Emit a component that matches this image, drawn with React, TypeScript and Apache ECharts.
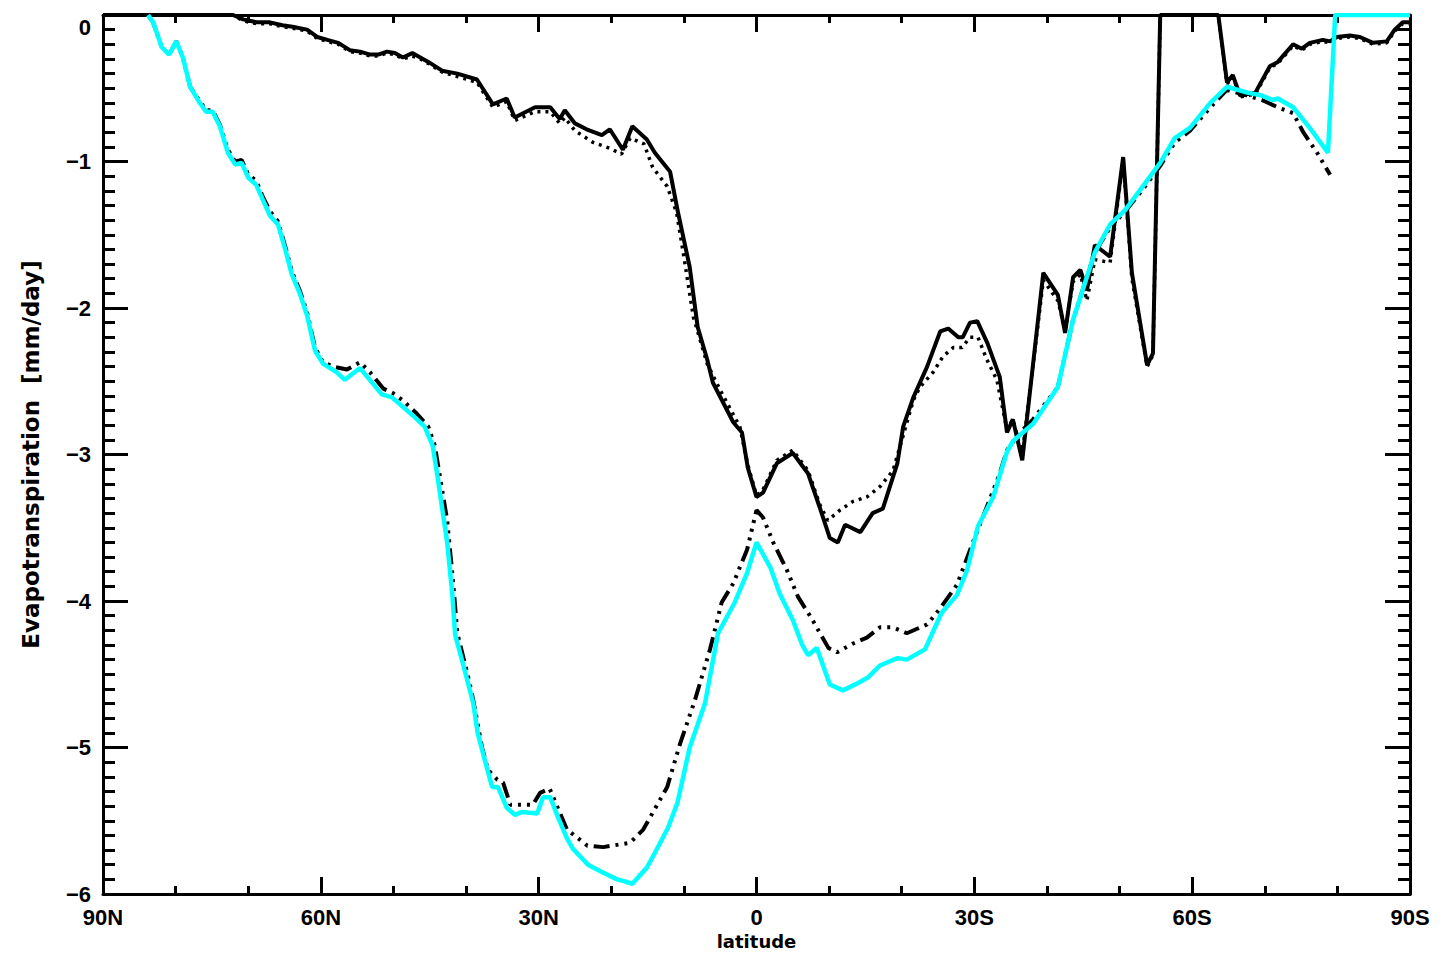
import { useEffect, useRef } from 'react';
import * as echarts from 'echarts';

// [latitude (deg, +N / -S), evapotranspiration (mm/day)]
const SOLID: [number, number][] = [
  [90, 0], [72.1, 0], [70.7, -0.03], [68.8, -0.05], [67.0, -0.05], [65.3, -0.07], [63.9, -0.08], [61.9, -0.10],
  [60.5, -0.15], [59.1, -0.17], [57.6, -0.19], [56.0, -0.24], [54.6, -0.25], [53.2, -0.27], [52.1, -0.27],
  [50.9, -0.25], [49.8, -0.26], [48.7, -0.29], [47.4, -0.26], [46.3, -0.29], [45.2, -0.32], [43.3, -0.38],
  [41.2, -0.40], [38.5, -0.44], [36.3, -0.61], [34.4, -0.57], [33.3, -0.70], [30.5, -0.63], [28.4, -0.63],
  [27.1, -0.71], [26.4, -0.65], [25.0, -0.74], [23.4, -0.78], [21.3, -0.82], [20.2, -0.78], [18.4, -0.92],
  [17.1, -0.76], [15.1, -0.85], [14.0, -0.94], [11.9, -1.07], [10.8, -1.35], [9.2, -1.72], [8.1, -2.13],
  [6.8, -2.35], [6.0, -2.51], [3.2, -2.78], [2.0, -2.85], [1.2, -3.09], [0.0, -3.29], [-0.9, -3.26],
  [-2.8, -3.06], [-5.0, -2.99], [-7.1, -3.13], [-8.7, -3.36], [-10.1, -3.57], [-11.2, -3.60], [-12.2, -3.48],
  [-14.3, -3.53], [-16.0, -3.40], [-17.4, -3.37], [-19.4, -3.06], [-20.2, -2.81], [-21.6, -2.61],
  [-23.5, -2.40], [-25.3, -2.16], [-26.4, -2.14], [-27.8, -2.20], [-28.4, -2.20], [-29.4, -2.10],
  [-30.4, -2.09], [-31.8, -2.24], [-33.5, -2.47], [-34.5, -2.85], [-35.3, -2.76], [-36.6, -3.04],
  [-39.5, -1.76], [-41.5, -1.91], [-42.5, -2.17], [-43.6, -1.79], [-44.6, -1.74], [-45.5, -1.88],
  [-46.6, -1.57], [-48.7, -1.65], [-50.5, -0.97], [-51.7, -1.76], [-53.8, -2.39], [-54.6, -2.31],
  [-55.6, 0], [-63.6, 0], [-64.8, -0.46], [-65.6, -0.41], [-66.6, -0.55], [-68.7, -0.53], [-70.7, -0.35],
  [-71.8, -0.32], [-73.9, -0.20], [-75.1, -0.23], [-76.2, -0.19], [-78.0, -0.17], [-79.0, -0.18],
  [-79.9, -0.15], [-81.7, -0.14], [-83.1, -0.15], [-84.9, -0.19], [-86.8, -0.18], [-87.9, -0.10],
  [-89.0, -0.05], [-90, -0.05],
];

const DOTTED: [number, number][] = [
  [90, 0], [72.1, 0], [70.7, -0.04], [68.8, -0.06], [67.0, -0.06], [65.3, -0.08], [63.9, -0.09], [61.9, -0.11],
  [60.5, -0.16], [59.1, -0.18], [57.6, -0.20], [56.0, -0.25], [54.6, -0.26], [53.2, -0.28], [52.1, -0.28],
  [50.9, -0.26], [49.8, -0.27], [48.7, -0.30], [47.4, -0.28], [46.3, -0.30], [45.2, -0.33], [43.3, -0.39],
  [41.2, -0.42], [38.5, -0.46], [36.3, -0.63], [34.4, -0.59], [33.3, -0.72], [30.5, -0.66], [28.4, -0.66],
  [27.1, -0.74], [26.4, -0.70], [25.0, -0.79], [22.5, -0.87], [20.2, -0.91], [18.6, -0.95], [17.4, -0.84],
  [15.5, -0.88], [14.3, -1.04], [12.3, -1.17], [11.0, -1.35], [10.1, -1.62], [8.7, -2.06], [6.8, -2.38],
  [5.0, -2.56], [2.3, -2.81], [1.2, -3.07], [0.0, -3.28], [-0.9, -3.24], [-2.8, -3.04], [-5.0, -2.97],
  [-7.1, -3.11], [-8.7, -3.34], [-9.8, -3.45], [-11.5, -3.38], [-13.3, -3.32], [-15.2, -3.29], [-17.0, -3.22],
  [-18.8, -3.11], [-20.2, -2.87], [-21.6, -2.63], [-22.5, -2.54], [-24.3, -2.44], [-25.7, -2.33],
  [-27.1, -2.27], [-28.3, -2.27], [-29.4, -2.20], [-30.5, -2.20], [-31.7, -2.35], [-33.1, -2.49],
  [-34.5, -2.83], [-35.3, -2.76], [-36.6, -3.00], [-39.5, -1.81], [-41.5, -1.95], [-42.5, -2.15],
  [-43.6, -1.82], [-44.6, -1.77], [-45.5, -1.95], [-46.6, -1.67], [-48.7, -1.69], [-50.5, -0.99],
  [-51.7, -1.80], [-53.8, -2.40], [-54.6, -2.32], [-55.6, 0], [-63.6, 0], [-64.8, -0.47], [-65.6, -0.42],
  [-66.6, -0.56], [-68.7, -0.54], [-70.7, -0.36], [-71.8, -0.33], [-73.9, -0.21], [-75.1, -0.24],
  [-76.2, -0.20], [-78.0, -0.18], [-79.0, -0.19], [-79.9, -0.16], [-81.7, -0.15], [-83.1, -0.16],
  [-84.9, -0.20], [-86.8, -0.19], [-87.9, -0.11], [-89.0, -0.06], [-90, -0.06],
];

const DASHDOT: [number, number][] = [
  [83.8, 0], [83.1, -0.05], [81.9, -0.22], [80.9, -0.27], [79.9, -0.18], [79.0, -0.29], [78.0, -0.49],
  [76.8, -0.58], [75.8, -0.65], [74.9, -0.65], [73.9, -0.75], [72.8, -0.92], [71.8, -1.00], [70.9, -0.99],
  [70.0, -1.09], [68.9, -1.13], [68.0, -1.24], [67.0, -1.34], [65.9, -1.41], [64.9, -1.58], [64.0, -1.75],
  [62.9, -1.88], [61.9, -2.03], [60.8, -2.27], [59.7, -2.37], [58.3, -2.40], [56.4, -2.42], [54.6, -2.37],
  [53.2, -2.44], [51.4, -2.55], [50.1, -2.58], [48.7, -2.63], [46.8, -2.72], [45.2, -2.81], [44.3, -2.94],
  [42.6, -3.45], [41.8, -3.86], [41.2, -4.22], [39.7, -4.52], [39.0, -4.68], [37.8, -5.00], [37.0, -5.15],
  [35.7, -5.22], [34.9, -5.24], [33.9, -5.39], [30.8, -5.39], [29.8, -5.31], [28.5, -5.28], [26.1, -5.56],
  [23.3, -5.67], [21.1, -5.68], [17.4, -5.65], [15.6, -5.56], [12.3, -5.27], [10.5, -4.97], [8.5, -4.68],
  [6.4, -4.33], [4.8, -4.01], [3.2, -3.88], [1.3, -3.65], [0.0, -3.38], [-0.9, -3.43], [-2.3, -3.60],
  [-4.2, -3.79], [-5.7, -3.97], [-7.6, -4.12], [-9.9, -4.32], [-11.1, -4.35], [-13.3, -4.29], [-15.2, -4.25],
  [-17.0, -4.18], [-18.8, -4.18], [-20.7, -4.22], [-23.5, -4.16], [-25.3, -4.05], [-27.6, -3.89],
  [-29.8, -3.60], [-31.7, -3.36], [-33.5, -3.13], [-34.5, -2.97], [-36.3, -2.85], [-38.1, -2.76],
  [-41.5, -2.54], [-43.6, -2.08], [-46.6, -1.62], [-48.7, -1.45], [-50.8, -1.34], [-53.2, -1.19],
  [-55.6, -1.03], [-57.6, -0.87], [-59.7, -0.79], [-62.5, -0.63], [-64.8, -0.51], [-67.6, -0.55],
  [-69.6, -0.58], [-71.8, -0.63], [-73.9, -0.67], [-75.3, -0.80], [-77.2, -0.94], [-79.0, -1.09],
];

const CYAN: [number, number][] = [
  [83.8, 0], [83.1, -0.05], [81.9, -0.22], [80.9, -0.27], [79.9, -0.18], [79.0, -0.29], [78.0, -0.49],
  [76.8, -0.59], [75.8, -0.66], [74.9, -0.66], [73.9, -0.76], [72.8, -0.94], [71.8, -1.02], [70.9, -1.01],
  [70.0, -1.11], [68.9, -1.16], [68.0, -1.26], [67.0, -1.37], [65.9, -1.43], [64.9, -1.60], [64.0, -1.77],
  [62.9, -1.90], [61.9, -2.05], [60.8, -2.29], [59.7, -2.38], [57.8, -2.44], [56.7, -2.49], [54.6, -2.41],
  [51.6, -2.59], [50.2, -2.61], [47.4, -2.73], [45.7, -2.81], [44.6, -2.94], [43.9, -3.16], [42.6, -3.60],
  [41.9, -3.95], [41.5, -4.23], [40.1, -4.49], [39.0, -4.70], [38.4, -4.90], [37.4, -5.09], [36.4, -5.27],
  [35.6, -5.27], [34.4, -5.41], [33.3, -5.46], [32.3, -5.44], [30.2, -5.45], [29.4, -5.34], [28.4, -5.34],
  [27.3, -5.48], [26.1, -5.62], [25.3, -5.69], [23.2, -5.80], [21.3, -5.85], [19.2, -5.90], [18.4, -5.91],
  [17.1, -5.93], [15.1, -5.82], [14.0, -5.72], [12.2, -5.55], [10.9, -5.38], [9.2, -5.00], [7.1, -4.70],
  [5.3, -4.22], [3.0, -4.01], [1.3, -3.81], [0.0, -3.60], [-1.9, -3.77], [-3.2, -3.95], [-5.0, -4.13],
  [-6.3, -4.30], [-7.1, -4.37], [-8.3, -4.32], [-10.1, -4.57], [-11.9, -4.61], [-14.0, -4.56], [-15.4, -4.52],
  [-17.0, -4.44], [-19.4, -4.39], [-20.7, -4.40], [-23.2, -4.33], [-25.5, -4.08], [-27.6, -3.96],
  [-29.0, -3.79], [-30.5, -3.49], [-32.6, -3.29], [-34.5, -2.98], [-35.3, -2.91], [-38.1, -2.79],
  [-41.5, -2.54], [-43.6, -2.08], [-46.6, -1.62], [-48.7, -1.43], [-50.8, -1.33], [-53.2, -1.17],
  [-55.6, -1.01], [-57.6, -0.84], [-59.7, -0.77], [-62.5, -0.60], [-64.8, -0.49], [-67.6, -0.53],
  [-69.6, -0.55], [-71.1, -0.58], [-71.8, -0.57], [-73.9, -0.63], [-76.2, -0.77], [-78.7, -0.94],
  [-79.7, 0], [-90, 0],
];

const X_TITLE = 'latitude';
const Y_TITLE = 'Evapotranspiration  [mm/day]';

export default function App() {
  const ref = useRef<HTMLDivElement>(null);
  useEffect(() => {
    const chart = echarts.init(ref.current!, null, { renderer: 'svg' });
    const black = '#000';
    const axisLine = { show: true, onZero: false, lineStyle: { color: black, width: 3 } };
    const xTick = { show: true, inside: true, length: 17, lineStyle: { color: black, width: 3 } };
    const xMinor = { show: true, splitNumber: 3, length: 8, lineStyle: { color: black, width: 3 } };
    const yTick = { show: true, inside: true, length: 25, lineStyle: { color: black, width: 3 } };
    const yMinor = { show: true, splitNumber: 10, length: 12, lineStyle: { color: black, width: 3 } };
    const labelFont = { fontFamily: 'Liberation Sans', fontWeight: 'bold' as const, fontSize: 22, color: black };
    const xBase = { type: 'value' as const, min: -90, max: 90, interval: 30, inverse: true, axisLine, axisTick: xTick, minorTick: xMinor, splitLine: { show: false } };
    const yBase = { type: 'value' as const, min: -6, max: 0, interval: 1, axisLine, axisTick: yTick, minorTick: yMinor, splitLine: { show: false } };
    chart.setOption({
      animation: false,
      backgroundColor: '#fff',
      grid: { left: 103, right: 39, top: 15, bottom: 66 },
      xAxis: [
        {
          ...xBase, position: 'bottom',
          axisLabel: {
            ...labelFont, margin: 12,
            formatter: (v: number) => (v === 0 ? '0' : v > 0 ? `${v}N` : `${-v}S`),
          },
          name: X_TITLE, nameLocation: 'middle', nameGap: 38,
          nameTextStyle: { fontFamily: 'DejaVu Sans', fontWeight: 'bold', fontSize: 18, color: black },
        },
        { ...xBase, position: 'top', axisLabel: { show: false } },
      ],
      yAxis: [
        {
          ...yBase, position: 'left',
          axisLabel: {
            ...labelFont, margin: 12,
            formatter: (v: number) => (v === 0 ? '{z|0}' : `\u2212${Math.abs(v)}`),
            rich: { z: { ...labelFont, padding: [24, 0, 0, 0] } },
          },
          name: Y_TITLE, nameLocation: 'middle', nameGap: 61, nameRotate: 90,
          nameTextStyle: { fontFamily: 'DejaVu Sans', fontWeight: 'bold', fontSize: 23, color: black },
        },
        { ...yBase, position: 'right', axisLabel: { show: false } },
      ],
      series: [
        { type: 'line', data: SOLID, symbol: 'none', lineStyle: { color: black, width: 4 } },
        { type: 'line', data: DOTTED, symbol: 'none', lineStyle: { color: black, width: 3.5, type: [3, 5] } },
        { type: 'line', data: DASHDOT, symbol: 'none', lineStyle: { color: black, width: 4, type: [16, 6, 3, 6, 3, 6, 3, 6] } },
        { type: 'line', data: CYAN, symbol: 'none', lineStyle: { color: '#00ffff', width: 4.5 } },
      ],
    });
    return () => chart.dispose();
  }, []);
  return <div ref={ref} style={{ position: 'fixed', left: 0, top: 0, width: 1449, height: 960, background: '#fff' }} />;
}
